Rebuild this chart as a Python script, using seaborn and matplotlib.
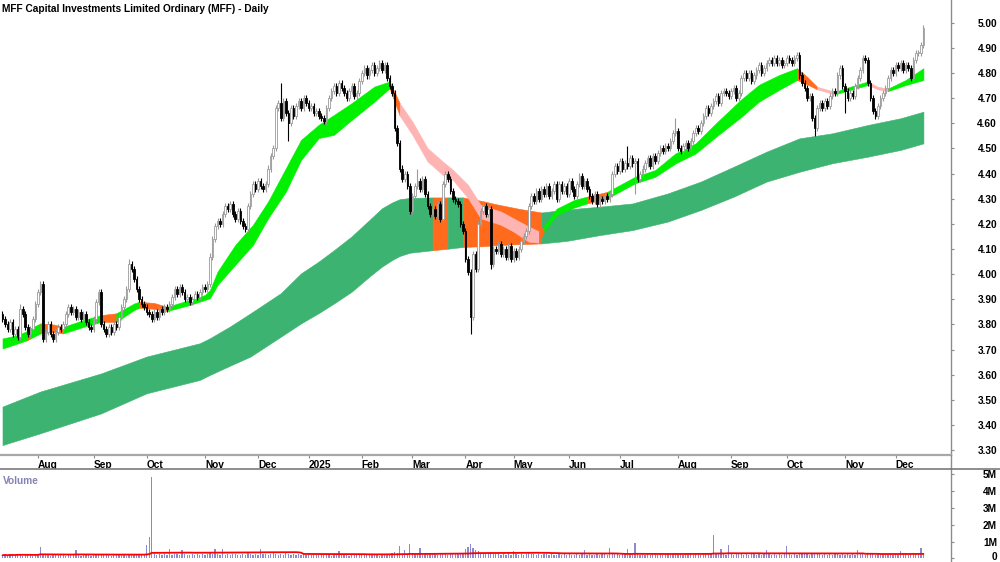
import numpy as np
import pandas as pd
import matplotlib
matplotlib.use("Agg")
import matplotlib.pyplot as plt
import matplotlib.transforms as mtransforms
from matplotlib.lines import Line2D
import seaborn as sns

# ---------------- data ----------------
title = "MFF Capital Investments Limited Ordinary (MFF) - Daily"
start_date = "2024-07-12"
asx_holidays = ["2024-12-25", "2024-12-26", "2025-01-01", "2025-01-27",
                "2025-04-18", "2025-04-21", "2025-04-25", "2025-06-09"]

first_open = 3.84
close = [
    3.82, 3.80, 3.78, 3.81, 3.76, 3.78, 3.75, 3.86, 3.84, 3.79,
    3.76, 3.78, 3.82, 3.88, 3.93, 3.96, 3.74, 3.77, 3.80, 3.76,
    3.74, 3.77, 3.79, 3.78, 3.80, 3.84, 3.87, 3.85, 3.86, 3.83,
    3.85, 3.82, 3.84, 3.81, 3.79, 3.78, 3.82, 3.89, 3.93, 3.80,
    3.78, 3.76, 3.79, 3.77, 3.80, 3.79, 3.83, 3.87, 3.90, 3.94,
    4.04, 4.02, 3.98, 3.94, 3.90, 3.88, 3.87, 3.85, 3.84, 3.82,
    3.85, 3.83, 3.86, 3.85, 3.87, 3.86, 3.88, 3.91, 3.94, 3.92,
    3.95, 3.93, 3.90, 3.91, 3.89, 3.90, 3.92, 3.91, 3.93, 3.95,
    3.94, 3.96, 4.07, 4.14, 4.19, 4.21, 4.20, 4.24, 4.27, 4.26,
    4.28, 4.24, 4.22, 4.25, 4.21, 4.19, 4.18, 4.27, 4.32, 4.36,
    4.34, 4.37, 4.35, 4.34, 4.36, 4.42, 4.47, 4.50, 4.66, 4.68,
    4.62, 4.69, 4.64, 4.60, 4.66, 4.63, 4.67, 4.69, 4.66, 4.70,
    4.68, 4.66, 4.67, 4.64, 4.65, 4.63, 4.62, 4.61, 4.66, 4.70,
    4.73, 4.75, 4.72, 4.76, 4.74, 4.72, 4.70, 4.73, 4.75, 4.71,
    4.72, 4.77, 4.80, 4.82, 4.79, 4.81, 4.83, 4.80, 4.82, 4.84,
    4.81, 4.83, 4.78, 4.75, 4.72, 4.58, 4.52, 4.42, 4.38, 4.40,
    4.35, 4.25, 4.31, 4.35, 4.37, 4.34, 4.38, 4.32, 4.27, 4.24,
    4.26, 4.23, 4.28, 4.22, 4.36, 4.40, 4.38, 4.33, 4.30, 4.29,
    4.28, 4.20, 4.17, 4.06, 4.01, 3.83, 4.08, 4.02, 4.20, 4.25,
    4.27, 4.24, 4.26, 4.04, 4.10, 4.09, 4.12, 4.08, 4.10, 4.07,
    4.11, 4.06, 4.09, 4.07, 4.10, 4.13, 4.15, 4.17, 4.27, 4.31,
    4.29, 4.33, 4.30, 4.34, 4.32, 4.35, 4.31, 4.33, 4.36, 4.30,
    4.36, 4.33, 4.35, 4.32, 4.37, 4.34, 4.31, 4.36, 4.39, 4.35,
    4.37, 4.34, 4.31, 4.29, 4.32, 4.28, 4.30, 4.29, 4.31, 4.30,
    4.32, 4.40, 4.43, 4.41, 4.45, 4.42, 4.44, 4.43, 4.46, 4.44,
    4.45, 4.38, 4.40, 4.42, 4.44, 4.46, 4.43, 4.47, 4.45, 4.48,
    4.50, 4.49, 4.51, 4.50, 4.53, 4.56, 4.57, 4.50, 4.49, 4.51,
    4.52, 4.50, 4.53, 4.56, 4.58, 4.57, 4.60, 4.63, 4.66, 4.64,
    4.67, 4.69, 4.71, 4.68, 4.72, 4.73, 4.72, 4.71, 4.73, 4.74,
    4.70, 4.72, 4.78, 4.80, 4.78, 4.80, 4.77, 4.79, 4.81, 4.83,
    4.80, 4.82, 4.84, 4.85, 4.84, 4.86, 4.84, 4.85, 4.83, 4.84,
    4.86, 4.85, 4.84, 4.86, 4.87, 4.79, 4.76, 4.74, 4.70, 4.71,
    4.62, 4.58, 4.66, 4.68, 4.66, 4.69, 4.67, 4.71, 4.73, 4.72,
    4.79, 4.82, 4.75, 4.73, 4.70, 4.72, 4.71, 4.75, 4.78, 4.81,
    4.86, 4.85, 4.76, 4.70, 4.65, 4.63, 4.67, 4.70, 4.72, 4.74,
    4.78, 4.81, 4.80, 4.83, 4.82, 4.84, 4.81, 4.83, 4.82, 4.78,
    4.85, 4.88, 4.88, 4.91, 4.98,
]
high_override = {7: 3.88, 50: 4.06, 110: 4.76, 164: 4.42, 247: 4.51, 266: 4.62, 364: 4.99}
low_override = {113: 4.53, 185: 3.76, 193: 4.02, 250: 4.32, 321: 4.55, 333: 4.64}

# volume in units of 10,000 shares
volume_10k = [
    18, 22, 15, 25, 20, 17, 28, 21, 16, 24, 19, 23, 14, 26, 20, 70, 22, 18, 25, 16,
    21, 19, 24, 17, 22, 15, 27, 20, 18, 50, 23, 16, 21, 25, 19, 14, 22, 26, 18, 20,
    17, 24, 20, 15, 23, 19, 26, 18, 21, 16, 28, 22, 19, 25, 17, 20, 24, 80, 125, 485,
    30, 22, 26, 19, 24, 21, 55, 18, 27, 23, 20, 50, 25, 17, 22, 28, 19, 24, 21, 26,
    18, 23, 30, 27, 55, 24, 20, 55, 22, 26, 19, 24, 28, 21, 17, 25, 22, 30, 26, 20,
    24, 19, 55, 23, 27, 21, 28, 32, 26, 22, 25, 20, 29, 24, 18, 26, 22, 27, 19, 23,
    21, 25, 18, 24, 20, 17, 23, 19, 26, 22, 15, 24, 20, 45, 18, 23, 21, 16, 25, 19,
    22, 18, 24, 20, 17, 26, 21, 19, 23, 16, 25, 20, 28, 24, 30, 35, 32, 75, 28, 50,
    26, 85, 30, 24, 27, 60, 22, 28, 25, 30, 23, 26, 21, 29, 24, 27, 22, 25, 28, 23,
    26, 30, 34, 55, 65, 85, 60, 50, 45, 32, 28, 25, 30, 40, 27, 24, 29, 22, 26, 21,
    25, 20, 45, 23, 19, 26, 22, 28, 30, 24, 27, 21, 25, 18, 23, 26, 20, 24, 22, 19,
    23, 21, 25, 18, 24, 20, 22, 26, 19, 23, 50, 21, 24, 18, 22, 25, 20, 23, 27, 21,
    60, 30, 24, 26, 22, 28, 23, 55, 25, 21, 90, 27, 22, 25, 20, 24, 21, 26, 23, 19,
    24, 21, 25, 28, 22, 26, 30, 24, 27, 21, 25, 23, 26, 20, 24, 28, 22, 25, 27, 23,
    26, 140, 30, 24, 55, 27, 22, 80, 25, 21, 24, 28, 26, 22, 25, 20, 23, 27, 21, 24,
    22, 26, 50, 23, 20, 25, 21, 24, 22, 27, 75, 26, 22, 25, 20, 30, 26, 24, 28, 22,
    30, 27, 23, 26, 21, 25, 22, 24, 20, 26, 23, 21, 25, 19, 24, 22, 26, 20, 50, 23,
    25, 21, 27, 24, 26, 22, 25, 20, 23, 27, 21, 24, 22, 26, 20, 45, 23, 25, 21, 24,
    26, 28, 30, 60, 32,
]

# long-term trend band (bar index, upper, lower, state of following segment)
long_idx = [0, 15, 39, 57, 78, 82, 90, 98, 110, 118, 125, 131, 138, 145, 150, 154,
            157, 161, 170, 176, 182, 190, 195, 204, 213, 223, 236, 249, 263, 276,
            289, 302, 315, 328, 342, 355, 364]
long_top = [3.473, 3.533, 3.605, 3.672, 3.725, 3.745, 3.792, 3.844, 3.924, 4.003,
            4.050, 4.095, 4.150, 4.215, 4.262, 4.285, 4.298, 4.303, 4.305, 4.305,
            4.305, 4.290, 4.278, 4.260, 4.245, 4.257, 4.268, 4.281, 4.321, 4.368,
            4.427, 4.487, 4.540, 4.560, 4.593, 4.620, 4.646]
long_bot = [3.320, 3.367, 3.446, 3.526, 3.579, 3.599, 3.636, 3.672, 3.751, 3.804,
            3.845, 3.883, 3.930, 3.990, 4.030, 4.056, 4.072, 4.085, 4.095, 4.101,
            4.108, 4.111, 4.115, 4.119, 4.122, 4.132, 4.155, 4.175, 4.209, 4.255,
            4.308, 4.368, 4.407, 4.441, 4.467, 4.494, 4.520]
long_state = ["G", "G", "G", "G", "G", "G", "G", "G", "G", "G", "G", "G", "G", "G",
              "G", "G", "G", "G", "O", "G", "O", "O", "O", "O", "G", "G", "G", "G",
              "G", "G", "G", "G", "G", "G", "G", "G", "G"]

# short-term trend band
short_idx = [0, 6, 10, 11, 15, 20, 24, 32, 39, 45, 52, 54, 60, 65, 74, 80, 82, 85,
             92, 99, 105, 112, 118, 125, 131, 138, 147, 153, 157, 162, 168, 174,
             178, 184, 189, 197, 202, 208, 212, 214, 219, 226, 231, 239, 250, 258,
             266, 274, 282, 292, 299, 307, 314, 318, 322, 329, 335, 342, 346, 350,
             357, 364]
short_top = [3.744, 3.757, 3.775, 3.784, 3.804, 3.800, 3.790, 3.817, 3.837, 3.844,
             3.883, 3.890, 3.885, 3.870, 3.897, 3.917, 3.937, 4.010, 4.116, 4.196,
             4.289, 4.421, 4.534, 4.594, 4.633, 4.680, 4.746, 4.766, 4.680, 4.607,
             4.501, 4.448, 4.415, 4.355, 4.275, 4.249, 4.222, 4.189, 4.170, 4.190,
             4.260, 4.295, 4.308, 4.327, 4.387, 4.414, 4.480, 4.520, 4.600, 4.695,
             4.753, 4.792, 4.819, 4.785, 4.745, 4.725, 4.745, 4.766, 4.745, 4.738,
             4.772, 4.819]
short_bot = [3.704, 3.724, 3.738, 3.744, 3.764, 3.770, 3.764, 3.790, 3.810, 3.810,
             3.857, 3.866, 3.862, 3.853, 3.877, 3.897, 3.904, 3.957, 4.037, 4.116,
             4.222, 4.328, 4.454, 4.541, 4.554, 4.613, 4.686, 4.739, 4.630, 4.554,
             4.448, 4.395, 4.375, 4.302, 4.222, 4.196, 4.169, 4.129, 4.125, 4.170,
             4.235, 4.265, 4.281, 4.301, 4.361, 4.387, 4.440, 4.480, 4.546, 4.625,
             4.686, 4.733, 4.772, 4.755, 4.735, 4.715, 4.732, 4.752, 4.735, 4.728,
             4.752, 4.772]
short_state = ["G", "G", "O", "G", "O", "O", "G", "G", "O", "G", "G", "O", "O", "G",
               "G", "G", "G", "G", "G", "G", "G", "G", "G", "G", "G", "G", "G", "O",
               "P", "P", "P", "P", "P", "P", "P", "P", "P", "P", "O", "G", "G", "G",
               "O", "G", "G", "G", "G", "G", "G", "G", "G", "G", "O", "O", "P", "G",
               "G", "P", "P", "G", "G", "G"]

price_ticks = [3.30, 3.40, 3.50, 3.60, 3.70, 3.80, 3.90, 4.00, 4.10, 4.20,
               4.30, 4.40, 4.50, 4.60, 4.70, 4.80, 4.90, 5.00]
vol_ticks = [0, 1, 2, 3, 4, 5]
vol_tick_labels = ["0", "1M", "2M", "3M", "4M", "5M"]

# ---------------- styling ----------------
sns.set_theme(style="white")
plt.rcParams["font.family"] = ["Liberation Sans", "DejaVu Sans"]
FS = 7.3
band_colors = {"G": "#00f000", "O": "#ff6a1c", "P": "#ffb4b4"}
long_colors = {"G": "#3cb371", "O": "#ff6a1c"}
GRAY = "#8c8c8c"

W, H = 1000, 562
fig = plt.figure(figsize=(W / 100, H / 100), dpi=100)
ax_p = fig.add_axes([0, (H - 455) / H, 951 / W, 455 / H])
ax_v = fig.add_axes([0, 0, 951 / W, (H - 469.3) / H], sharex=ax_p)
for a in (ax_p, ax_v):
    a.set_facecolor("white")

n = len(close)
bday = pd.offsets.CustomBusinessDay(holidays=asx_holidays)
dates = pd.date_range(start_date, periods=n, freq=bday)
xi = np.arange(n)

c = np.array(close)
o = np.concatenate([[first_open], c[:-1]])
hi = np.maximum(o, c) + 0.012
lo = np.minimum(o, c) - 0.012
for k, v in high_override.items():
    hi[k] = v
for k, v in low_override.items():
    lo[k] = v


def draw_band(ax, idx, top, bot, state, colors, z):
    idx = np.array(idx); top = np.array(top); bot = np.array(bot)
    start = 0
    for k in range(1, len(idx)):
        if k == len(idx) - 1 or state[k] != state[start]:
            sl = slice(start, k + 1)
            ax.fill_between(idx[sl], bot[sl], top[sl], color=colors[state[start]],
                            linewidth=0.4, edgecolor=colors[state[start]], zorder=z)
            start = k


draw_band(ax_p, long_idx, long_top, long_bot, long_state, long_colors, 1)
draw_band(ax_p, short_idx, short_top, short_bot, short_state, band_colors, 2)

up = c >= o
wick_col = np.where(up, "#9a9a9a", "#000000")
ax_p.vlines(xi, lo, hi, colors=wick_col, linewidth=0.8, zorder=3)
body_bot = np.minimum(o, c)
body_h = np.maximum(np.abs(c - o), 0.004)
ax_p.bar(xi[up], body_h[up], bottom=body_bot[up], width=0.62, color="white",
         edgecolor="#9a9a9a", linewidth=0.6, zorder=4)
ax_p.bar(xi[~up], body_h[~up], bottom=body_bot[~up], width=0.62, color="black",
         edgecolor="black", linewidth=0.6, zorder=4)

xmin = -2.5 / 2.53
xmax = (951 - 2.5) / 2.53
ax_p.set_xlim(xmin, xmax)
ax_p.set_ylim(5.00 - (455 - 22.7) / 251.4, 5.00 + 22.7 / 251.4)

# month ticks
m = dates.to_period("M")
tick_pos, tick_lab = [], []
for k in range(1, n):
    if m[k] != m[k - 1]:
        tick_pos.append(k)
        tick_lab.append(str(dates[k].year) if dates[k].month == 1 else dates[k].strftime("%b"))
ax_p.set_xticks(tick_pos)
ax_p.set_xticklabels(tick_lab, ha="left", fontsize=FS, fontweight="bold", color="black")
offset = mtransforms.ScaledTranslation(2 / 72, 0, fig.dpi_scale_trans)
for lbl in ax_p.get_xticklabels():
    lbl.set_transform(lbl.get_transform() + offset)
ax_p.tick_params(axis="x", direction="out", length=2.5, width=0.8, color=GRAY, pad=1.0,
                 bottom=True)

ax_p.yaxis.tick_right()
ax_p.set_yticks(price_ticks)
ax_p.set_yticklabels([f"{t:.2f}" for t in price_ticks], ha="right", fontsize=FS,
                     fontweight="bold", color="black")
ax_p.tick_params(axis="y", direction="out", length=2.2, width=0.8, color=GRAY, pad=31)

for s in ("top", "left"):
    ax_p.spines[s].set_visible(False)
ax_p.spines["right"].set_color(GRAY)
ax_p.spines["right"].set_linewidth(1.0)
ax_p.spines["bottom"].set_color("#a8a8a8")
ax_p.spines["bottom"].set_linewidth(1.6)
ax_p.grid(False)

fig.text(2.5 / W, 1 - 8.5 / H, title, ha="left", va="center", fontsize=FS,
         fontweight="bold", color="black")

# ---------------- volume ----------------
vol = np.array(volume_10k) / 100.0
ax_v.bar(xi, vol, width=0.5, color="#8a8ad2", linewidth=0, zorder=2)
vol_ma = pd.Series(vol).rolling(60, min_periods=1).mean()
sns.lineplot(x=xi, y=vol_ma.values, ax=ax_v, color="#ff0000", linewidth=1.3, zorder=3)
ax_v.set_ylim(-(562 - 558.3) / 16.8, 5 + (474.3 - 469.3) / 16.8)
ax_v.yaxis.tick_right()
ax_v.set_yticks(vol_ticks)
ax_v.set_yticklabels(vol_tick_labels, ha="right", fontsize=FS, fontweight="bold", color="black")
ax_v.tick_params(axis="y", direction="out", length=2.2, width=0.8, color=GRAY, pad=31)
ax_v.tick_params(axis="x", bottom=False, labelbottom=False)
up_shift = mtransforms.ScaledTranslation(0, 2 / 72, fig.dpi_scale_trans)
zero_lbl = ax_v.get_yticklabels()[0]
zero_lbl.set_transform(zero_lbl.get_transform() + up_shift)
for s in ("left", "bottom"):
    ax_v.spines[s].set_visible(False)
ax_v.spines["top"].set_color("#7a7a7a")
ax_v.spines["top"].set_linewidth(1.2)
ax_v.spines["right"].set_color(GRAY)
ax_v.spines["right"].set_linewidth(1.0)
ax_v.set_xlabel("")
ax_v.set_ylabel("")
ax_v.grid(False)
ax_v.text(3 / 951, 0.93, "Volume", transform=ax_v.transAxes, ha="left", va="top",
          fontsize=FS, fontweight="bold", color="#8484b4")

# connecting lines (vertical divider through date strip, separator to right edge)
fig.add_artist(Line2D([951 / W, 951 / W], [(H - 469.3) / H, (H - 455) / H],
                      transform=fig.transFigure, color=GRAY, linewidth=1.0))
fig.add_artist(Line2D([951 / W, 1.0], [(H - 469.3) / H, (H - 469.3) / H],
                      transform=fig.transFigure, color="#7a7a7a", linewidth=1.2))

fig.savefig("out.png", dpi=100, facecolor="white")
